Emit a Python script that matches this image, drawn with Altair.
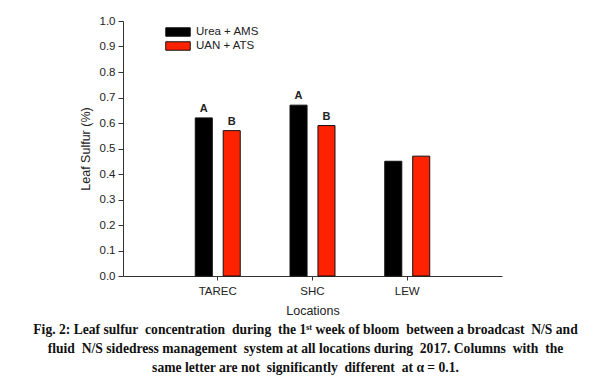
import altair as alt
import pandas as pd

locations = ["TAREC", "SHC", "LEW"]
treatments = ["Urea + AMS", "UAN + ATS"]
urea_ams = [0.62, 0.67, 0.45]
uan_ats = [0.57, 0.59, 0.47]
letters_urea = ["A", "A", ""]
letters_uan = ["B", "B", ""]
colors = ["#000000", "#ff2200"]

rows = []
for i, loc in enumerate(locations):
    rows.append({"loc": loc, "trt": treatments[0], "val": urea_ams[i], "lab": letters_urea[i]})
    rows.append({"loc": loc, "trt": treatments[1], "val": uan_ats[i], "lab": letters_uan[i]})
df = pd.DataFrame(rows)

S = "\u00a0 "
caption = [
    f"Fig. 2: Leaf sulfur{S}concentration{S}during{S}the 1ˢᵗ week of bloom{S}between a broadcast{S}N/S and",
    f"fluid{S}N/S sidedress management{S}system at all locations during{S}2017. Columns{S}with{S}the",
    f"same letter are not{S}significantly{S}different{S}at α = 0.1.",
]

x = alt.X("loc:N", sort=locations, title="Locations",
          scale=alt.Scale(paddingInner=0, paddingOuter=0.5),
          axis=alt.Axis(labelAngle=0, labelFont="Liberation Sans", labelFontSize=11.5,
                        labelColor="#222", titleFont="Liberation Sans", titleFontSize=12.5,
                        titleFontWeight="normal", titleColor="#222", titlePadding=8,
                        tickSize=4, labelPadding=5, domainColor="#333", tickColor="#333"))
xo = alt.XOffset("trt:N", sort=treatments,
                 scale=alt.Scale(paddingInner=0.39, paddingOuter=0.89))
y = alt.Y("val:Q", title="Leaf Sulfur (%)",
          scale=alt.Scale(domain=[0, 1.0], nice=False),
          axis=alt.Axis(values=[i / 10 for i in range(11)], format=".1f", grid=False,
                        labelFont="Liberation Sans", labelFontSize=11.5, labelColor="#222",
                        titleFont="Liberation Sans", titleFontSize=12.5, titleFontWeight="normal",
                        titleColor="#222", titlePadding=7, tickSize=5, labelPadding=3,
                        domainColor="#333", tickColor="#333"))

bars = alt.Chart(df).mark_bar(stroke="#111", strokeWidth=1).encode(
    x=x, xOffset=xo, y=y,
    color=alt.Color("trt:N", sort=treatments,
                    scale=alt.Scale(domain=treatments, range=colors),
                    legend=alt.Legend(title=None, orient="none", legendX=48, legendY=4,
                                      symbolType="M-2,-0.69H2V0.69H-2Z", symbolSize=150,
                                      symbolStrokeColor="#111", symbolStrokeWidth=1,
                                      labelFont="Liberation Sans", labelFontSize=11.5,
                                      labelColor="#222", rowPadding=0, labelOffset=11)),
)

text = alt.Chart(df).mark_text(dy=-9, font="Liberation Sans", fontSize=11,
                               fontWeight="bold", color="#222").encode(
    x=x, xOffset=xo, y=y, text="lab:N")

chart = alt.layer(bars, text).properties(
    width=379, height=255,
    padding={"left": 115, "top": 13, "right": 90, "bottom": 110},
    autosize=alt.AutoSizeParams(type="none"),
    title=alt.TitleParams(text=caption, orient="bottom", anchor="middle", frame="group",
                          font="Liberation Serif", fontSize=13.6, fontWeight="bold",
                          color="#111", lineHeight=19, offset=6, dx=-7),
).configure_view(stroke=None).configure_axisY(domainCap="butt")

chart.save("out.html", embed_options={"renderer": "svg", "actions": False})
